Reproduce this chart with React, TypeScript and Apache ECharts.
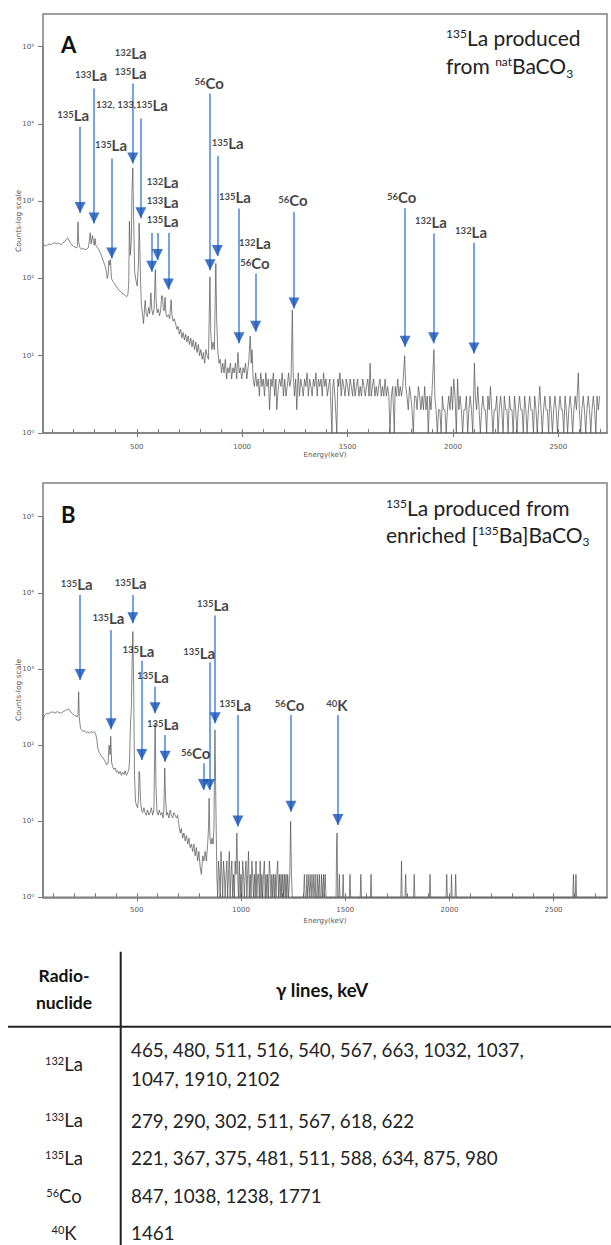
import React, { useEffect, useRef } from 'react';
import * as echarts from 'echarts';

const W = 611;
const H = 1245;
const FONT = 'Lato, "Open Sans", sans-serif';

// ---------- Panel A spectrum: [energy keV, counts] ----------
const spectrumA: number[][] = [
  [55,265],[62,270],[70,262],[78,275],[86,280],[94,272],[102,285],[110,290],[118,282],[126,288],[134,280],[142,276],[150,290],[158,300],[165,318],[172,335],[178,310],[185,290],[192,270],[200,262],[207,255],[214,248],[218,260],[221,540],[224,300],[230,250],[238,240],[246,245],[254,236],[262,240],[270,250],[276,330],[279,390],[283,280],[290,360],[294,300],[298,270],[302,330],[306,265],[312,255],[318,240],[324,225],[330,205],[336,185],[342,165],[348,150],[354,130],[360,100],[364,110],[367,170],[371,150],[375,175],[380,100],[386,92],[392,88],[398,82],[404,78],[410,74],[416,70],[422,68],[428,66],[434,63],[440,62],[446,60],[452,58],[458,62],[462,90],[465,550],[469,200],[474,300],[477,1300],[481,2700],[485,600],[490,120],[496,95],[502,80],[508,160],[511,520],[514,300],[518,90],[522,45],[527,35],[532,26],[536,38],[540,52],[544,36],[550,32],[556,42],[561,35],[567,65],[571,40],[576,34],[582,40],[588,130],[592,50],[597,36],[602,40],[608,33],[613,38],[618,60],[622,58],[626,40],[630,38],[634,57],[638,35],[644,32],[650,34],[656,30],[663,53],[667,34],[672,28],[678,30],[684,26],[690,22],[696,24],[702,19],[708,22],[714,17],[720,20],[726,16],[732,19],[738,15],[744,18],[750,14],[756,17],[762,13],[768,16],[774,12],[780,15],[786,11],[792,14],[798,10],[804,12],[810,9],[816,11],[822,8],[828,12],[834,10],[840,9],[847,105],[851,20],[856,12],[862,15],[868,12],[875,157],[879,30],[884,12],[890,8],[896,9],[902,6],[908,8],[914,6],[920,9],[926,5],[932,7],[938,6],[944,8],[950,5],[956,7],[962,6],[968,8],[974,5],[980,11],[986,6],[992,7],[998,5],[1004,7],[1010,6],[1016,8],[1022,5],[1028,7],[1032,9],[1038,18],[1043,8],[1047,12],[1052,5],[1058,4],[1064,6],[1070,4],[1076,5],[1082,3],[1088,6],[1094,4],[1100,5],[1106,3],[1112,6],[1118,4],[1124,5],[1130,2],[1136,5],[1142,4],[1148,6],[1154,3],[1160,5],[1164,2],[1172,4],[1178,5],[1184,4],[1190,6],[1196,3],[1202,5],[1208,3],[1214,4],[1220,6],[1226,4],[1232,5],[1238,39],[1242,6],[1248,3],[1254,5],[1259,2],[1266,6],[1272,3],[1278,5],[1284,4],[1290,3],[1296,5],[1302,4],[1308,6],[1314,3],[1320,5],[1326,4],[1332,3],[1338,5],[1344,4],[1350,6],[1356,3],[1362,5],[1368,4],[1374,5],[1380,3],[1386,6],[1392,4],[1398,5],[1404,3],[1410,4],[1416,5],[1426,1],[1430,4],[1434,5],[1440,3],[1449,1],[1454,5],[1458,4],[1464,6],[1470,3],[1476,5],[1482,4],[1488,3],[1494,5],[1500,4],[1506,3],[1512,5],[1518,4],[1524,3],[1530,5],[1536,3],[1542,4],[1548,5],[1554,3],[1560,4],[1566,3],[1572,5],[1578,4],[1584,3],[1590,4],[1596,5],[1602,3],[1607,8],[1612,3],[1618,4],[1624,5],[1630,3],[1636,4],[1642,3],[1648,4],[1654,5],[1660,3],[1666,4],[1672,3],[1678,5],[1684,3],[1690,4],[1696,3],[1701,1],[1708,3],[1714,4],[1722,1],[1726,4],[1732,3],[1738,5],[1744,3],[1750,4],[1756,3],[1762,4],[1771,10],[1776,4],[1782,3],[1788,2],[1794,4],[1800,3],[1806,2],[1812,1],[1818,3],[1824,3],[1830,2],[1836,4],[1842,3],[1848,2],[1854,3],[1860,2],[1866,4],[1872,2],[1878,3],[1883,1],[1890,3],[1896,2],[1902,4],[1910,12],[1914,3],[1920,2],[1926,1],[1932,2],[1938,2],[1944,1],[1950,3],[1956,2],[1962,2],[1968,1],[1974,2],[1980,3],[1986,2],[1992,4],[1998,2],[2004,5],[2010,3],[2016,1],[2022,5],[2028,2],[2034,3],[2040,2],[2046,1],[2052,2],[2058,2],[2064,3],[2070,1],[2076,2],[2082,3],[2088,2],[2094,1],[2102,8],[2106,3],[2112,2],[2118,4],[2124,2],[2130,1],[2136,2],[2142,3],[2148,2],[2154,2],[2160,1],[2166,3],[2172,2],[2178,4],[2184,2],[2190,1],[2196,2],[2202,2],[2208,3],[2214,1],[2220,2],[2226,3],[2232,2],[2238,1],[2244,3],[2250,2],[2256,2],[2262,1],[2268,3],[2274,2],[2280,2],[2286,1],[2292,3],[2298,2],[2304,1],[2310,2],[2316,3],[2322,2],[2328,2],[2334,1],[2340,3],[2346,2],[2352,1],[2358,2],[2364,3],[2370,2],[2376,2],[2382,1],[2388,3],[2394,2],[2400,1],[2406,2],[2412,4],[2418,2],[2424,1],[2430,2],[2436,3],[2442,2],[2448,2],[2454,1],[2460,3],[2466,2],[2472,1],[2478,2],[2484,3],[2490,2],[2496,1],[2502,2],[2508,3],[2514,2],[2520,2],[2526,1],[2532,3],[2538,2],[2544,1],[2550,2],[2556,3],[2562,2],[2568,1],[2574,2],[2580,3],[2586,2],[2595,6],[2600,2],[2606,1],[2612,2],[2618,3],[2624,2],[2630,1],[2636,2],[2642,3],[2648,2],[2654,1],[2660,2],[2666,3],[2672,2],[2678,1],[2684,3],[2690,2],[2696,3]
];

// ---------- Panel B spectrum: [energy keV, counts] ----------
const spectrumB: number[][] = [
  [50,214],[56,240],[62,255],[70,262],[78,258],[86,268],[94,272],[102,270],[110,265],[118,275],[126,268],[134,262],[142,270],[150,278],[158,285],[165,292],[172,300],[178,285],[184,270],[190,262],[196,250],[202,245],[208,240],[214,235],[218,250],[221,500],[224,230],[230,165],[236,158],[242,150],[248,155],[254,148],[260,145],[266,150],[272,142],[278,148],[284,150],[290,145],[296,150],[302,142],[308,120],[312,95],[316,85],[320,80],[326,75],[332,70],[338,68],[344,64],[350,60],[356,55],[362,58],[367,100],[372,75],[375,130],[379,60],[384,52],[390,48],[396,50],[402,44],[408,46],[414,42],[420,45],[426,40],[432,44],[438,41],[444,46],[450,40],[456,43],[462,48],[465,60],[470,200],[474,300],[477,1000],[481,3100],[485,600],[489,40],[494,18],[499,16],[504,15],[508,20],[511,45],[514,40],[518,18],[523,14],[528,13],[534,15],[540,13],[546,12],[552,14],[558,12],[564,13],[570,15],[576,12],[582,14],[588,194],[592,30],[597,13],[602,12],[608,14],[614,12],[620,13],[626,11],[630,14],[634,50],[638,20],[643,12],[648,13],[654,11],[660,14],[666,12],[672,11],[678,13],[684,12],[690,11],[696,12],[702,9],[708,7],[714,8],[720,6],[726,7],[732,5.5],[738,6.5],[744,5],[750,6],[756,4.5],[762,5],[768,4],[774,5],[780,3.5],[786,4.5],[792,3],[798,4],[804,2.5],[810,2],[816,3.5],[822,3],[828,4],[834,3],[840,5],[844,8],[847,20],[851,6],[856,5],[861,6],[866,5],[870,8],[875,158],[879,20],[884,2],[888,1],[892,3],[896,2],[900,1],[904,4],[908,2],[912,1],[916,3],[920,2],[924,1],[928,2],[932,3],[936,1],[940,2],[944,4],[948,1],[952,2],[956,3],[960,1],[964,2],[968,1],[972,3],[976,2],[980,7],[984,2],[988,1],[992,3],[996,1],[1000,2],[1004,1],[1008,3],[1012,2],[1016,1],[1020,2],[1024,3],[1028,1],[1032,2],[1036,4],[1040,1],[1044,2],[1048,1],[1052,3],[1056,2],[1060,1],[1064,2],[1068,1],[1072,3],[1076,1],[1080,2],[1084,2],[1088,1],[1092,3],[1096,1],[1100,2],[1104,1],[1108,2],[1112,3],[1116,1],[1120,2],[1124,1],[1128,2],[1132,1],[1136,3],[1140,2],[1144,1],[1148,2],[1152,1],[1156,2],[1160,1],[1164,2],[1168,1],[1172,2],[1176,3],[1180,1],[1184,2],[1188,1],[1192,2],[1196,1],[1200,2],[1204,1],[1208,2],[1212,1],[1216,2],[1220,1],[1224,2],[1228,1],[1234,2],[1238,10],[1242,2],[1246,1],[1300,1],[1304,2],[1308,1],[1313,1],[1316,2],[1320,1],[1323,1],[1326,2],[1330,1],[1333,1],[1336,2],[1340,1],[1343,1],[1346,2],[1350,1],[1353,1],[1356,2],[1358,1],[1363,1],[1366,2],[1370,1],[1373,1],[1376,2],[1378,1],[1383,1],[1386,2],[1390,1],[1393,1],[1396,2],[1398,1],[1401,1],[1404,2],[1408,1],[1456,1],[1459,5],[1461,7],[1464,1],[1469,1],[1472,2],[1475,1],[1487,1],[1490,2],[1493,1],[1520,1],[1523,2],[1526,1],[1572,1],[1575,2],[1578,1],[1621,1],[1624,2],[1627,1],[1767,1],[1770,3],[1773,1],[1787,1],[1790,2],[1793,1],[1828,1],[1831,2],[1834,1],[1904,1],[1907,2],[1910,1],[1984,1],[1987,2],[1990,1],[2007,1],[2010,2],[2013,1],[2027,1],[2030,2],[2033,1],[2592,1],[2595,2],[2598,1],[2604,1],[2607,2],[2610,1],[2756,1]
];

// ---------- Arrows: [energy, counts at arrow top, counts at arrow tip] ----------
const arrowsA: number[][] = [
  [231, 9180, 702], [297, 28800, 516], [381, 3580, 182], [481, 33400, 3080],
  [519, 11780, 600], [571, 387, 122], [598, 387, 173], [650, 387, 72],
  [848, 24800, 128], [882, 3870, 195], [985, 807, 14.5], [1064, 116, 20.4],
  [1246, 729, 41], [1773, 814, 13.1], [1908, 383, 14.5], [2100, 290, 10.7],
];
const arrowsB: number[][] = [
  [228, 9380, 717], [377, 3250, 161], [481, 9380, 3980], [524, 1285, 63.7],
  [588, 585, 262], [636, 136, 60.5], [820, 57.7, 25.7], [849, 1225, 25.7],
  [876, 5020, 193], [985, 249, 8.5], [1240, 249, 13.3], [1465, 249, 8.9],
];

// ---------- Peak labels: [energy, counts, mass number, element] ----------
const labelsA: (number | string)[][] = [
  [198, 13000, '135', 'La'], [283, 42800, '133', 'La'], [378, 5320, '135', 'La'],
  [471, 81700, '132', 'La'], [471, 45800, '135', 'La'], [477, 17500, '132, 133,135', 'La'],
  [623, 1750, '132', 'La'], [623, 982, '133', 'La'], [623, 557, '135', 'La'],
  [843, 34000, '56', 'Co'], [931, 5600, '135', 'La'], [966, 1120, '135', 'La'],
  [1061, 285, '132', 'La'], [1061, 157, '56', 'Co'], [1241, 1033, '56', 'Co'],
  [1757, 1120, '56', 'Co'], [1896, 542, '132', 'La'], [2086, 402, '132', 'La'],
];
const labelsB: (number | string)[][] = [
  [212, 13000, '135', 'La'], [364, 4640, '135', 'La'], [471, 13370, '135', 'La'],
  [508, 1725, '135', 'La'], [577, 792, '135', 'La'], [625, 188, '135', 'La'],
  [783, 78, '56', 'Co'], [799, 1637, '135', 'La'], [865, 6930, '135', 'La'],
  [972, 336, '135', 'La'], [1233, 336, '56', 'Co'], [1460, 336, '40', 'K'],
];

// ---------- Axis ticks ----------
const xTickValues = [100,200,300,400,500,600,700,800,900,1000,1100,1200,1300,1400,1500,1600,1700,1800,1900,2000,2100,2200,2300,2400,2500,2600,2700];
const xLabelValues = [500, 1000, 1500, 2000, 2500];
const SUP = ['⁰', '¹', '²', '³', '⁴', '⁵'];

// ---------- Table ----------
const tableNuclides: string[][] = [['132', 'La'], ['133', 'La'], ['135', 'La'], ['56', 'Co'], ['40', 'K']];
const tableLines: string[] = [
  '465, 480, 511, 516, 540, 567, 663, 1032, 1037,\n1047, 1910, 2102',
  '279, 290, 302, 511, 567, 618, 622',
  '221, 367, 375, 481, 511, 588, 634, 875, 980',
  '847, 1038, 1238, 1771',
  '1461',
];

const labelRich = {
  s: { fontSize: 9.5, fontWeight: 'bold', fontFamily: FONT, color: '#111', lineHeight: 14, verticalAlign: 'top', padding: [3, 0, 0, 0] },
  m: { fontSize: 15, fontWeight: 'bold', fontFamily: FONT, color: '#111', lineHeight: 18, verticalAlign: 'middle' },
};

function buildAxes(idx: number, min: number, max: number, labelMargin: number, nameGap: number) {
  const x = {
    type: 'value', gridIndex: idx, min, max, position: 'bottom',
    axisLine: { show: true, onZero: false, lineStyle: { color: '#808080', width: 1.5 } },
    axisTick: { show: true, inside: true, length: 4, lineStyle: { color: '#777' }, customValues: xTickValues },
    axisLabel: { fontSize: 7, color: '#555', margin: labelMargin, fontFamily: 'DejaVu Sans', customValues: xLabelValues, formatter: (v: number) => String(v) },
    splitLine: { show: false },
    name: 'Energy(keV)', nameLocation: 'middle', nameGap,
    nameTextStyle: { fontSize: 7, color: '#555', fontFamily: 'DejaVu Sans' },
  };
  const xMajor = {
    type: 'value', gridIndex: idx, min, max, position: 'bottom', offset: 0,
    axisLine: { show: false, onZero: false },
    axisTick: { show: true, inside: false, length: 4, lineStyle: { color: '#777' }, customValues: xLabelValues },
    axisLabel: { show: false },
    splitLine: { show: false },
  };
  const y = {
    type: 'log', gridIndex: idx, min: 1, max: 100000, logBase: 10,
    axisLine: { show: true, lineStyle: { color: '#808080', width: 1.5 } },
    axisTick: { show: true, length: 5, lineStyle: { color: '#777' } },
    axisLabel: {
      fontSize: 7, color: '#555', margin: 9, fontFamily: 'DejaVu Sans',
      formatter: (v: number) => '10' + SUP[Math.round(Math.log10(v))],
    },
    splitLine: { show: false },
  };
  return { x, xMajor, y };
}

function spectrumSeries(idx: number, data: number[][]) {
  return {
    type: 'line', xAxisIndex: idx, yAxisIndex: idx, data, showSymbol: false, symbol: 'none',
    lineStyle: { color: '#505050', width: 0.7 }, silent: true, z: 2,
  };
}

function arrowSeries(idx: number, arrows: number[][]) {
  return {
    type: 'scatter', xAxisIndex: idx, yAxisIndex: idx,
    data: arrows.map((a) => [a[0], a[2]]),
    symbol: 'triangle', symbolRotate: 180, symbolSize: [11, 11], symbolOffset: [0, -5.5],
    itemStyle: { color: '#1553b6' }, silent: true, z: 6,
    markLine: {
      silent: true, symbol: ['none', 'none'], label: { show: false },
      lineStyle: { color: '#4a86e0', width: 1.5, type: 'solid' },
      emphasis: { disabled: true },
      data: arrows.map((a) => [{ coord: [a[0], a[1]] }, { coord: [a[0], a[2]] }]),
    },
  };
}

function labelSeries(idx: number, labels: (number | string)[][]) {
  return {
    type: 'scatter', xAxisIndex: idx, yAxisIndex: idx, silent: true, z: 7,
    symbol: 'circle', symbolSize: 1, itemStyle: { color: 'rgba(0,0,0,0)' },
    data: labels.map((l) => ({
      value: [l[0], l[1]],
      label: { formatter: `{s|${l[2]}}{m|${l[3]}}` },
    })),
    label: { show: true, position: 'inside', rich: labelRich },
  };
}

const titleRich = (lh: number) => ({
  s: { fontSize: 12, fontFamily: FONT, fill: '#222', lineHeight: 24, verticalAlign: 'top', padding: [4, 0, 0, 0] },
  t: { fontSize: 21, fontFamily: FONT, fill: '#222', lineHeight: lh, verticalAlign: 'middle' },
  b: { fontSize: 12, fontFamily: FONT, fill: '#222', lineHeight: 16, verticalAlign: 'bottom' },
});

function buildGraphic() {
  const g: any[] = [];
  // frames
  g.push({ type: 'rect', shape: { x: 43, y: 14, width: 564, height: 419 }, style: { fill: 'none', stroke: '#808080', lineWidth: 1.5 }, z: 1 });
  g.push({ type: 'rect', shape: { x: 43, y: 483, width: 564, height: 414.3 }, style: { fill: 'none', stroke: '#808080', lineWidth: 1.5 }, z: 1 });
  // panel letters
  g.push({ type: 'text', x: 61, y: 44, style: { text: 'A', fontSize: 22, fontWeight: 'bold', fontFamily: FONT, fill: '#111', verticalAlign: 'middle' } });
  g.push({ type: 'text', x: 61, y: 514, style: { text: 'B', fontSize: 22, fontWeight: 'bold', fontFamily: FONT, fill: '#111', verticalAlign: 'middle' } });
  // titles
  g.push({ type: 'text', x: 446, y: 23, style: { text: '{s|135}{t|La produced}\n{t|from }{s|nat}{t|BaCO}{b|3}', rich: titleRich(28), verticalAlign: 'top', align: 'left' } });
  g.push({ type: 'text', x: 386, y: 493.5, style: { text: '{s|135}{t|La produced from}\n{t|enriched [}{s|135}{t|Ba]BaCO}{b|3}', rich: titleRich(27), verticalAlign: 'top', align: 'left' } });
  // y axis names
  g.push({ type: 'text', x: 18, y: 221, rotation: Math.PI / 2, style: { text: 'Counts-log scale', fontSize: 7.5, fontFamily: 'DejaVu Sans', fill: '#555', align: 'center', verticalAlign: 'middle' } });
  g.push({ type: 'text', x: 18, y: 690, rotation: Math.PI / 2, style: { text: 'Counts-log scale', fontSize: 7.5, fontFamily: 'DejaVu Sans', fill: '#555', align: 'center', verticalAlign: 'middle' } });

  // table
  g.push({ type: 'line', shape: { x1: 8, y1: 1026.7, x2: 611, y2: 1026.7 }, style: { stroke: '#222', lineWidth: 2 } });
  g.push({ type: 'line', shape: { x1: 120.7, y1: 951.7, x2: 120.7, y2: 1245 }, style: { stroke: '#222', lineWidth: 2 } });
  g.push({ type: 'text', x: 64, y: 989, style: { text: 'Radio-\nnuclide', fontSize: 17.5, fontWeight: 'bold', fontFamily: FONT, fill: '#111', align: 'center', verticalAlign: 'middle', lineHeight: 27.7 } });
  g.push({ type: 'text', x: 322, y: 990, style: { text: 'γ lines, keV', fontSize: 18.5, fontWeight: 'bold', fontFamily: FONT, fill: '#111', align: 'center', verticalAlign: 'middle' } });
  const rowY = [1064, 1120, 1157.7, 1195.7, 1232.7];
  const nucRich = {
    s: { fontSize: 11, fontFamily: FONT, fill: '#222', lineHeight: 19, verticalAlign: 'top', padding: [3, 0, 0, 0] },
    m: { fontSize: 18.5, fontFamily: FONT, fill: '#222', lineHeight: 24, verticalAlign: 'middle' },
  };
  tableNuclides.forEach((n, i) => {
    g.push({ type: 'text', x: 64, y: rowY[i], style: { text: `{s|${n[0]}}{m|${n[1]}}`, rich: nucRich, align: 'center', verticalAlign: 'middle' } });
    g.push({ type: 'text', x: 131, y: rowY[i], style: { text: tableLines[i], fontSize: 18.8, fontFamily: FONT, fill: '#222', align: 'left', verticalAlign: 'middle', lineHeight: 28.3 } });
  });
  return g;
}

export default function App() {
  const ref = useRef<HTMLDivElement>(null);
  useEffect(() => {
    if (!ref.current) return;
    const chart = echarts.init(ref.current, null, { renderer: 'svg' });
    const a = buildAxes(0, 55, 2731, 10, 18.5);
    const b = buildAxes(1, 50, 2756, 9.5, 20);
    chart.setOption({
      animation: false,
      backgroundColor: '#fff',
      grid: [
        { left: 43, top: 46.7, width: 564, height: 386.3 },
        { left: 43, top: 516.7, width: 564, height: 380.6 },
      ],
      xAxis: [a.x, b.x, a.xMajor, b.xMajor],
      yAxis: [a.y, b.y],
      series: [
        spectrumSeries(0, spectrumA),
        spectrumSeries(1, spectrumB),
        arrowSeries(0, arrowsA),
        arrowSeries(1, arrowsB),
        labelSeries(0, labelsA),
        labelSeries(1, labelsB),
      ],
      graphic: buildGraphic(),
    });
    return () => chart.dispose();
  }, []);
  return <div ref={ref} style={{ position: 'absolute', left: 0, top: 0, width: W, height: H, background: '#fff' }} />;
}
